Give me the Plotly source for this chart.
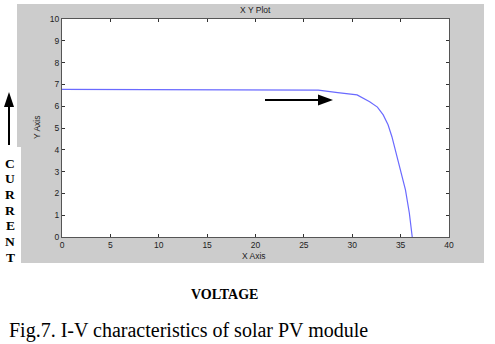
import plotly.graph_objects as go

# I-V curve of the PV module (voltage in V, current in A)
voltage = [0, 7.9, 8.0, 26.5, 28.5, 30.5, 31.8, 32.6, 33.2, 33.7, 34.1, 34.6, 35.1, 35.5, 35.9, 36.2]
current = [6.77, 6.77, 6.74, 6.74, 6.62, 6.52, 6.2, 5.96, 5.6, 5.15, 4.6, 3.76, 2.93, 2.16, 1.1, 0.0]

x_ticks = [0, 5, 10, 15, 20, 25, 30, 35, 40]
y_ticks = [0, 1, 2, 3, 4, 5, 6, 7, 8, 9, 10]

W, H = 495, 344
L, R, T, B = 62, 449, 19, 237  # plot area in pixels


def px(x):
    return (x - L) / (R - L)


def py(y):
    return (B - y) / (B - T)


fig = go.Figure()
fig.add_trace(go.Scatter(x=voltage, y=current, mode="lines",
                         line=dict(color="#6a6aff", width=1.2), hoverinfo="skip"))

axis_font = dict(family="Liberation Sans, Arial", size=8.5, color="#222222")
common = dict(showgrid=False, zeroline=False, showline=True, linecolor="#555555",
              linewidth=1, mirror="ticks", ticks="inside", ticklen=3,
              tickcolor="#333333", tickfont=axis_font)

fig.update_xaxes(range=[0, 40], tickvals=x_ticks, **common)
fig.update_yaxes(range=[0, 10], tickvals=y_ticks, **common)

shapes = [
    # grey figure panel
    dict(type="rect", xref="paper", yref="paper", layer="below",
         x0=px(17), x1=px(484), y0=py(263), y1=py(4),
         fillcolor="#cccccc", line=dict(width=0)),
    # white axes area
    dict(type="rect", xref="paper", yref="paper", layer="below",
         x0=0, x1=1, y0=0, y1=1, fillcolor="white", line=dict(width=0)),
    # white strip behind the CURRENT label
    dict(type="rect", xref="paper", yref="paper", layer="below",
         x0=px(0), x1=px(21), y0=py(264), y1=py(147),
         fillcolor="white", line=dict(width=0)),
    # upward arrow shaft
    dict(type="line", xref="paper", yref="paper",
         x0=px(9), x1=px(9), y0=py(145), y1=py(104),
         line=dict(color="black", width=2)),
    # upward arrow head
    dict(type="path", xref="paper", yref="paper",
         path=f"M {px(9)} {py(92)} L {px(4)} {py(107)} L {px(14)} {py(107)} Z",
         fillcolor="black", line=dict(width=0)),
    # rightward arrow shaft
    dict(type="line", xref="paper", yref="paper",
         x0=px(265), x1=px(322), y0=py(100), y1=py(100),
         line=dict(color="black", width=2)),
    # rightward arrow head
    dict(type="path", xref="paper", yref="paper",
         path=f"M {px(333)} {py(100)} L {px(318)} {py(94.5)} L {px(318)} {py(105.5)} Z",
         fillcolor="black", line=dict(width=0)),
]


def label(text, x, y, font, **kw):
    return dict(text=text, x=px(x), y=py(y), xref="paper", yref="paper",
                xanchor=kw.pop("xanchor", "center"), yanchor="middle",
                showarrow=False, font=font, **kw)


serif = "Liberation Serif, Times New Roman"
annotations = [
    label("X Y Plot", 255, 10, axis_font),
    label("X Axis", 254, 255.5, axis_font),
    label("Y Axis", 37, 128, axis_font, textangle=-90),
    label("VOLTAGE", 224, 294, dict(family=serif, size=14, color="black", weight="bold")),
    label("Fig.7. I-V characteristics of solar PV module", 7, 330,
          dict(family=serif, size=20, color="black"), xanchor="left"),
]

for i, ch in enumerate("CURRENT"):
    annotations.append(label(ch, 10, 163 + i * 15.7,
                             dict(family=serif, size=13.5, color="black", weight="bold")))

fig.update_layout(
    width=W, height=H,
    margin=dict(l=L, r=W - R, t=T, b=H - B, pad=0),
    paper_bgcolor="white", plot_bgcolor="white",
    showlegend=False, shapes=shapes, annotations=annotations,
)

fig.write_html("out.html", config={"displayModeBar": False})
